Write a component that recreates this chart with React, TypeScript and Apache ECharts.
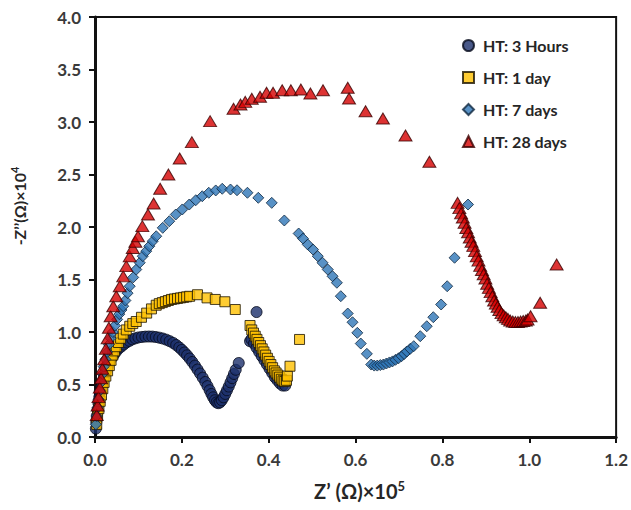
import React, { useEffect, useRef } from "react";
import * as echarts from "echarts";

const xTicks = [0, 0.2, 0.4, 0.6, 0.8, 1.0, 1.2];
const yTicks = [0, 0.5, 1.0, 1.5, 2.0, 2.5, 3.0, 3.5, 4.0];
const seriesNames = ["HT: 3 Hours", "HT: 1 day", "HT: 7 days", "HT: 28 days"];

const ht3Hours: [number, number][] = [
  [0.002, 0.08], [0.003, 0.14], [0.004, 0.2], [0.006, 0.26], [0.008, 0.32], [0.01, 0.38], [0.012, 0.43],
  [0.015, 0.48], [0.018, 0.53], [0.021, 0.58], [0.025, 0.63], [0.029, 0.67], [0.033, 0.71], [0.038, 0.75],
  [0.043, 0.78], [0.048, 0.81], [0.054, 0.84], [0.06, 0.86], [0.066, 0.88], [0.072, 0.9], [0.079, 0.915],
  [0.086, 0.93], [0.093, 0.94], [0.1, 0.948], [0.108, 0.953], [0.116, 0.956], [0.124, 0.957], [0.132, 0.956],
  [0.14, 0.952], [0.148, 0.946], [0.156, 0.938], [0.164, 0.927], [0.172, 0.913], [0.18, 0.896], [0.187, 0.876],
  [0.194, 0.853], [0.2, 0.83], [0.206, 0.805], [0.212, 0.778], [0.218, 0.748], [0.224, 0.715], [0.23, 0.68],
  [0.236, 0.643], [0.242, 0.605], [0.248, 0.565], [0.254, 0.524], [0.259, 0.485], [0.264, 0.446], [0.268, 0.41],
  [0.272, 0.378], [0.276, 0.35], [0.28, 0.33], [0.284, 0.322], [0.288, 0.33], [0.292, 0.35], [0.296, 0.378],
  [0.3, 0.41], [0.304, 0.445], [0.308, 0.48], [0.312, 0.52], [0.316, 0.56], [0.32, 0.6], [0.324, 0.64],
  [0.331, 0.705],
  [0.372, 1.19], [0.357, 0.912], [0.36, 0.93], [0.366, 0.89], [0.372, 0.85], [0.378, 0.81], [0.384, 0.77],
  [0.39, 0.73], [0.396, 0.69], [0.402, 0.65], [0.408, 0.61], [0.414, 0.57], [0.42, 0.54], [0.426, 0.51],
  [0.432, 0.49], [0.438, 0.49],
];

const ht1Day: [number, number][] = [
  [0.004, 0.12], [0.006, 0.2], [0.009, 0.27], [0.012, 0.34], [0.015, 0.4], [0.018, 0.46], [0.021, 0.52],
  [0.025, 0.58], [0.029, 0.63], [0.033, 0.68], [0.037, 0.73], [0.041, 0.78], [0.045, 0.82], [0.049, 0.86],
  [0.054, 0.9], [0.059, 0.94], [0.065, 0.98], [0.072, 1.02], [0.08, 1.055], [0.087, 1.08], [0.095, 1.1],
  [0.107, 1.14], [0.119, 1.18], [0.13, 1.22], [0.141, 1.255], [0.148, 1.27], [0.155, 1.28], [0.162, 1.29],
  [0.169, 1.3], [0.176, 1.31], [0.183, 1.315], [0.19, 1.32], [0.197, 1.325], [0.204, 1.33], [0.211, 1.335],
  [0.218, 1.34], [0.236, 1.355], [0.258, 1.325], [0.277, 1.31], [0.299, 1.288], [0.323, 1.214],
  [0.357, 1.062], [0.361, 1.02], [0.365, 0.99], [0.369, 0.96], [0.373, 0.93], [0.377, 0.9], [0.381, 0.87],
  [0.385, 0.84], [0.389, 0.81], [0.393, 0.78], [0.397, 0.75], [0.401, 0.72], [0.405, 0.69], [0.409, 0.66],
  [0.413, 0.63], [0.417, 0.61], [0.421, 0.59], [0.425, 0.57], [0.429, 0.55], [0.433, 0.535], [0.437, 0.53],
  [0.441, 0.54], [0.443, 0.58], [0.449, 0.674], [0.471, 0.929],
];

const ht7Days: [number, number][] = [
  [0.002, 0.12], [0.004, 0.2], [0.006, 0.28], [0.008, 0.36], [0.011, 0.44], [0.014, 0.52], [0.017, 0.6],
  [0.02, 0.67], [0.024, 0.74], [0.028, 0.81], [0.032, 0.88], [0.036, 0.94], [0.041, 1.0], [0.046, 1.06],
  [0.051, 1.12], [0.056, 1.17], [0.061, 1.21], [0.065, 1.246], [0.07, 1.3], [0.075, 1.37], [0.08, 1.436],
  [0.088, 1.52], [0.095, 1.595], [0.103, 1.66], [0.11, 1.722], [0.118, 1.77], [0.125, 1.817], [0.133, 1.865],
  [0.141, 1.912], [0.156, 1.992], [0.171, 2.055], [0.186, 2.119], [0.201, 2.167], [0.217, 2.214],
  [0.232, 2.255], [0.247, 2.293], [0.262, 2.326], [0.278, 2.348], [0.293, 2.364], [0.312, 2.357],
  [0.327, 2.35], [0.351, 2.326], [0.376, 2.278], [0.407, 2.23], [0.436, 2.062], [0.469, 1.938], [0.479, 1.89],
  [0.49, 1.833], [0.502, 1.786], [0.513, 1.722], [0.524, 1.659], [0.536, 1.595], [0.547, 1.531],
  [0.557, 1.469], [0.566, 1.341], [0.582, 1.176], [0.593, 1.093], [0.604, 0.992], [0.612, 0.89],
  [0.626, 0.792], [0.636, 0.69], [0.643, 0.68], [0.65, 0.68], [0.657, 0.685], [0.664, 0.69], [0.671, 0.7],
  [0.678, 0.71], [0.685, 0.72], [0.692, 0.735], [0.699, 0.75], [0.706, 0.77], [0.712, 0.79], [0.718, 0.814],
  [0.726, 0.84], [0.734, 0.865], [0.749, 0.96], [0.764, 1.055], [0.779, 1.141], [0.797, 1.262],
  [0.811, 1.436], [0.828, 1.707], [0.859, 2.214],
];

const ht28Days: [number, number][] = [
  [0.004, 0.21], [0.006, 0.3], [0.008, 0.38], [0.011, 0.47], [0.014, 0.56], [0.017, 0.65], [0.021, 0.74],
  [0.025, 0.84], [0.029, 0.94], [0.032, 1.04], [0.036, 1.15], [0.042, 1.246], [0.049, 1.34], [0.057, 1.436],
  [0.065, 1.53], [0.072, 1.627], [0.08, 1.72], [0.087, 1.8], [0.093, 1.86], [0.099, 1.912], [0.109, 2.008],
  [0.122, 2.119], [0.135, 2.224], [0.15, 2.364], [0.169, 2.5], [0.195, 2.652], [0.223, 2.808],
  [0.265, 3.008], [0.319, 3.126], [0.335, 3.167], [0.346, 3.192], [0.361, 3.221], [0.38, 3.24],
  [0.395, 3.278], [0.41, 3.278], [0.431, 3.303], [0.451, 3.303], [0.474, 3.31], [0.496, 3.271],
  [0.525, 3.303], [0.582, 3.326], [0.585, 3.224], [0.623, 3.103], [0.663, 3.033], [0.715, 2.871],
  [0.77, 2.621], [0.835, 2.23], [0.839, 2.18], [0.843, 2.13], [0.847, 2.09], [0.851, 2.04], [0.855, 1.99],
  [0.859, 1.95], [0.863, 1.9], [0.867, 1.86], [0.871, 1.82], [0.875, 1.77], [0.879, 1.72], [0.883, 1.68],
  [0.887, 1.63], [0.891, 1.59], [0.895, 1.55], [0.899, 1.51], [0.903, 1.46], [0.907, 1.42], [0.911, 1.38],
  [0.915, 1.34], [0.919, 1.3], [0.923, 1.27], [0.927, 1.24], [0.931, 1.21], [0.936, 1.18], [0.941, 1.16],
  [0.946, 1.14], [0.951, 1.125], [0.956, 1.11], [0.962, 1.1], [0.968, 1.095], [0.974, 1.095], [0.98, 1.1],
  [0.986, 1.105], [0.992, 1.11], [0.996, 1.119], [1.003, 1.15], [1.025, 1.278], [1.063, 1.643],
];

const FONT = "Lato, 'Open Sans', sans-serif";

export default function App() {
  const ref = useRef<HTMLDivElement>(null);
  useEffect(() => {
    document.body.style.margin = "0";
    if (!ref.current) return;
    const chart = echarts.init(ref.current, null, { renderer: "svg" });
    const axisLabelStyle = { color: "#3a3a3a", fontFamily: FONT, fontWeight: "bold" as const, fontSize: 17 };
    const supRichX = {
      sup: { fontSize: 13, fontWeight: "bold", fontFamily: FONT, color: "#262626", verticalAlign: "top", lineHeight: 13 },
    };
    const supRichY = {
      sup: { fontSize: 11, fontWeight: "bold", fontFamily: FONT, color: "#262626", verticalAlign: "top", lineHeight: 11 },
    };
    chart.setOption({
      animation: false,
      backgroundColor: "#ffffff",
      grid: {
        left: 95,
        right: 9,
        top: 17,
        bottom: 73,
        show: true,
        borderColor: "#111",
        borderWidth: 2,
        backgroundColor: "transparent",
      },
      legend: {
        orient: "vertical",
        left: 457,
        top: 30,
        itemWidth: 11,
        itemHeight: 11,
        itemGap: 11,
        data: seriesNames,
        textStyle: { fontFamily: FONT, fontWeight: "bold", fontSize: 16, color: "#262626", lineHeight: 21, padding: [0, 0, 0, 4] },
      },
      xAxis: {
        type: "value",
        min: xTicks[0],
        max: xTicks[xTicks.length - 1],
        interval: 0.2,
        splitLine: { show: false },
        axisLine: { show: true, onZero: false, lineStyle: { color: "#111", width: 3 } },
        axisTick: { show: true, inside: false, length: 6, lineStyle: { color: "#111", width: 2 } },
        axisLabel: { ...axisLabelStyle, margin: 14, formatter: (v: number) => v.toFixed(1) },
        name: "Z’ (Ω)×10{sup|5}",
        nameLocation: "middle",
        nameGap: 42,
        nameTextStyle: {
          fontFamily: FONT, fontWeight: "bold", fontSize: 20, color: "#262626", lineHeight: 24,
          padding: [0, 0, 0, 8], rich: supRichX,
        },
      },
      yAxis: {
        type: "value",
        min: yTicks[0],
        max: yTicks[yTicks.length - 1],
        interval: 0.5,
        splitLine: { show: false },
        axisLine: { show: true, onZero: false, lineStyle: { color: "#111", width: 3 } },
        axisTick: { show: true, inside: false, length: 6, lineStyle: { color: "#111", width: 2 } },
        axisLabel: { ...axisLabelStyle, margin: 14, formatter: (v: number) => v.toFixed(1) },
        name: "-Z’’(Ω)×10{sup|4}",
        nameLocation: "middle",
        nameGap: 66,
        nameRotate: 90,
        nameTextStyle: {
          fontFamily: FONT, fontWeight: "bold", fontSize: 16, color: "#262626", lineHeight: 20,
          padding: [0, 0, 0, 42], rich: supRichY,
        },
      },
      series: [
        {
          name: seriesNames[0],
          type: "scatter",
          data: ht3Hours,
          symbol: "circle",
          symbolSize: 11,
          itemStyle: { color: "#1c2f6b", borderColor: "#050a1a", borderWidth: 1 },
        },
        {
          name: seriesNames[1],
          type: "scatter",
          data: ht1Day,
          symbol: "rect",
          symbolSize: 10,
          itemStyle: { color: "#ffc000", borderColor: "#1a1300", borderWidth: 1 },
        },
        {
          name: seriesNames[2],
          type: "scatter",
          data: ht7Days,
          symbol: "diamond",
          symbolSize: 11,
          itemStyle: { color: "#2e75b6", borderColor: "#102840", borderWidth: 1 },
        },
        {
          name: seriesNames[3],
          type: "scatter",
          data: ht28Days,
          symbol: "triangle",
          symbolSize: [13, 11],
          itemStyle: { color: "#d40000", borderColor: "#3a0000", borderWidth: 1 },
        },
      ],
    });
    return () => chart.dispose();
  }, []);
  return <div ref={ref} style={{ width: 631, height: 510 }} />;
}
